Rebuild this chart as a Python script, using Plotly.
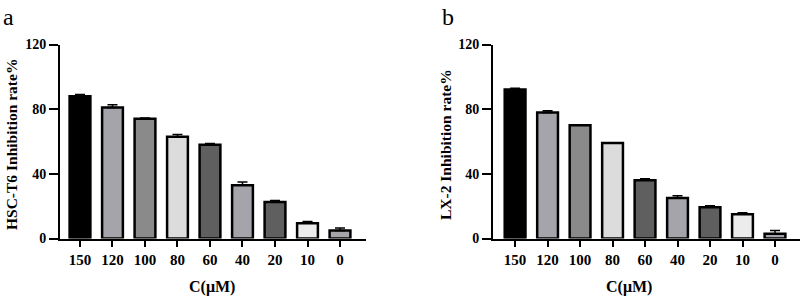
import plotly.graph_objects as go

categories = ["150", "120", "100", "80", "60", "40", "20", "10", "0"]
hsc_values = [88, 81, 74, 63, 58, 33, 22.5, 9.5, 5]
hsc_errors = [1.0, 1.7, 0.6, 1.3, 0.8, 2.0, 1.0, 1.0, 1.5]
lx_values = [92.2, 78, 70, 59, 36, 25, 19.3, 15, 3]
lx_errors = [0.7, 1.0, 0.3, 0.3, 1.0, 1.5, 1.0, 1.0, 2.0]
bar_colors = ["#000000", "#a4a4aa", "#8a8a8a", "#dcdcdc", "#5f5f5f",
              "#a4a4aa", "#5f5f5f", "#ececec", "#a4a4aa"]
y_ticks = [0, 40, 80, 120]

FONT = "Liberation Serif"
W, H = 803, 298

def sx(px):
    return px / W

def sy(py):
    return 1 - py / H

fig = go.Figure()

def add_bars(values, errors, xa, ya):
    fig.add_trace(go.Bar(
        x=categories, y=values, width=0.64,
        marker=dict(color=bar_colors, line=dict(color="black", width=2.5)),
        error_y=dict(type="data", symmetric=False, array=errors,
                     arrayminus=[0] * len(errors), color="black",
                     thickness=1.5, width=5),
        xaxis=xa, yaxis=ya, showlegend=False,
    ))

add_bars(hsc_values, hsc_errors, "x", "y")
add_bars(lx_values, lx_errors, "x2", "y2")

ydom = [sy(238.5), sy(44.5)]

def xaxis_cfg(dom, rng):
    return dict(domain=dom, range=rng, type="category", automargin=False,
                showline=True, linecolor="black", linewidth=2,
                ticks="outside", ticklen=6, tickwidth=2, tickcolor="black",
                showgrid=False, zeroline=False,
                tickfont=dict(family=FONT, size=15, color="black", weight="bold"))

def yaxis_cfg(anchor):
    return dict(domain=ydom, range=[0, 120], tickvals=y_ticks, anchor=anchor,
                automargin=False,
                showline=True, linecolor="black", linewidth=2,
                ticks="outside", ticklen=9, tickwidth=2, tickcolor="black",
                showgrid=False, zeroline=False,
                tickfont=dict(family=FONT, size=14, color="black", weight="bold"))

def txt(text, x, y, size, bold=True, angle=0, xanchor="center", yanchor="middle"):
    return dict(text=text, x=sx(x), y=sy(y), xref="paper", yref="paper",
                xanchor=xanchor, yanchor=yanchor, showarrow=False, textangle=angle,
                font=dict(family=FONT, size=size, color="black",
                          weight="bold" if bold else "normal"))

fig.update_layout(
    width=W, height=H,
    margin=dict(l=0, r=0, t=0, b=0, autoexpand=False),
    paper_bgcolor="white", plot_bgcolor="white",
    xaxis=dict(**xaxis_cfg([sx(60), sx(366)], [-0.615, 8.8]), anchor="y"),
    yaxis=yaxis_cfg("x"),
    xaxis2=dict(**xaxis_cfg([sx(493), sx(800)], [-0.68, 8.77]), anchor="y2"),
    yaxis2=yaxis_cfg("x2"),
    annotations=[
        txt("a", 1, 2, 24, bold=False, xanchor="left", yanchor="top"),
        txt("b", 440, 2, 24, bold=False, xanchor="left", yanchor="top"),
        txt("HSC-T6 Inhibition rate%", 11, 145, 15.5, angle=-90),
        txt("LX-2 Inhibition rate%", 445, 145, 15.5, angle=-90),
        txt("C(μM)", 212, 287, 16),
        txt("C(μM)", 629, 287, 16),
    ],
)

fig.write_html(
    "out.html",
    config={"displayModeBar": False},
    post_script="document.body.style.margin='0';document.body.style.padding='0';"
                "document.body.style.overflow='hidden';",
)
